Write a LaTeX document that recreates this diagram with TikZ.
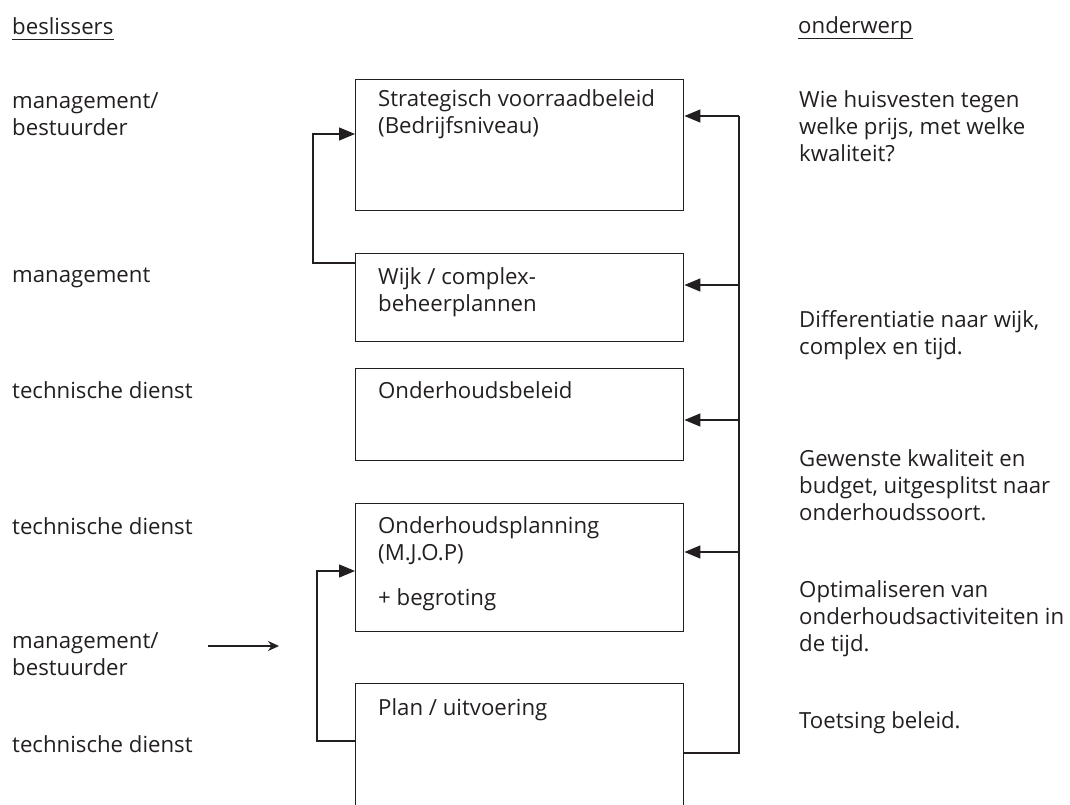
\documentclass[tikz,border=0pt]{standalone}
\usepackage{fontspec}
\setmainfont{Open Sans}
\usetikzlibrary{arrows.meta}
\definecolor{ink}{RGB}{35,31,32}
\newcommand\twol[2]{\vtop{\hbox{#1}\hbox{#2}}}
\newcommand\threel[3]{\vtop{\hbox{#1}\hbox{#2}\hbox{#3}}}
\begin{document}
\begin{tikzpicture}[x=1pt,y=-1pt,
  txt/.style={anchor=base west,inner sep=0pt,text=ink,font=\fontsize{22.2}{27}\selectfont},
  box/.style={draw=ink,line width=1.4pt,anchor=north west,inner sep=0pt},
  conn/.style={draw=ink,line width=1.4pt},
  tri/.style={conn,-{Triangle[length=16pt,width=13pt]}},
  small/.style={draw=ink,line width=1.3pt,-{Stealth[length=11pt,width=10pt,inset=3.5pt]}}]
\clip (0,0) rectangle (1070,805);
% boxes
\node[box,minimum width=328pt,minimum height=131pt] (b1) at (355,79) {};
\node[box,minimum width=328pt,minimum height=88pt] (b2) at (355,253) {};
\node[box,minimum width=328pt,minimum height=92pt] (b3) at (355,368) {};
\node[box,minimum width=328pt,minimum height=128pt] (b4) at (355,503) {};
\node[box,minimum width=328pt,minimum height=160pt] (b5) at (355,683) {};
% box texts
\node[txt] (t1) at (378,107) {\twol{Strategisch voorraadbeleid}{(Bedrijfsniveau)}};
\node[txt] (t2) at (378,284) {\twol{Wijk / complex-}{beheerplannen}};
\node[txt] (t3) at (378,398) {Onderhoudsbeleid};
\node[txt] (t4) at (378,533) {\twol{Onderhoudsplanning}{(M.J.O.P)}};
\node[txt] (t4b) at (378,605) {+ begroting};
\node[txt] (t5) at (378,715) {Plan / uitvoering};
% headers
\node[txt] (hl) at (12,35) {beslissers};
\node[txt] (hr) at (798,34) {onderwerp};
\draw[ink,line width=1pt] ([yshift=-4.5pt]hl.base west) -- ([yshift=-4.5pt]hl.base east);
\draw[ink,line width=1pt] ([yshift=-4.5pt]hr.base west) -- ([yshift=-4.5pt]hr.base east);
% left column
\node[txt] (l1) at (12,109) {\twol{management/}{bestuurder}};
\node[txt] (l2) at (12,282) {management};
\node[txt] (l3) at (12,398) {technische dienst};
\node[txt] (l4) at (12,534) {technische dienst};
\node[txt] (l5) at (12,648) {\twol{management/}{bestuurder}};
\node[txt] (l6) at (12,752) {technische dienst};
% right column
\node[txt] (r1t) at (799,108) {\threel{Wie huisvesten tegen}{welke prijs, met welke}{kwaliteit?}};
\node[txt] (r2t) at (799,327) {\twol{Differentiatie naar wijk,}{complex en tijd.}};
\node[txt] (r3t) at (799,466) {\threel{Gewenste kwaliteit en}{budget, uitgesplitst naar}{onderhoudssoort.}};
\node[txt] (r4t) at (799,597) {\threel{Optimaliseren van}{onderhoudsactiviteiten in}{de tijd.}};
\node[txt] (r5t) at (799,728) {Toetsing beleid.};
% bus on the right
\coordinate (r1) at (739,116);
\coordinate (r2) at (739,285);
\coordinate (r3) at (739,420);
\coordinate (r4) at (739,552);
\coordinate (r5) at (739,753);
\draw[conn] (b5.east |- r5) -- (r5) -- (r1);
\draw[tri] (r1) -- (b1.east |- r1);
\draw[tri] (r2) -- (b2.east |- r2);
\draw[tri] (r3) -- (b3.east |- r3);
\draw[tri] (r4) -- (b4.east |- r4);
% left loops
\coordinate (la) at (313,263);
\coordinate (lb) at (313,134);
\draw[tri] (b2.west |- la) -- (la) -- (lb) -- (b1.west |- lb);
\coordinate (lc) at (317,741);
\coordinate (ld) at (317,571);
\draw[tri] (b5.west |- lc) -- (lc) -- (ld) -- (b4.west |- ld);
% standalone arrow
\coordinate (sa) at (208,646);
\coordinate (sb) at (279,646);
\draw[small] (sa) -- (sb);
\end{tikzpicture}
\end{document}
